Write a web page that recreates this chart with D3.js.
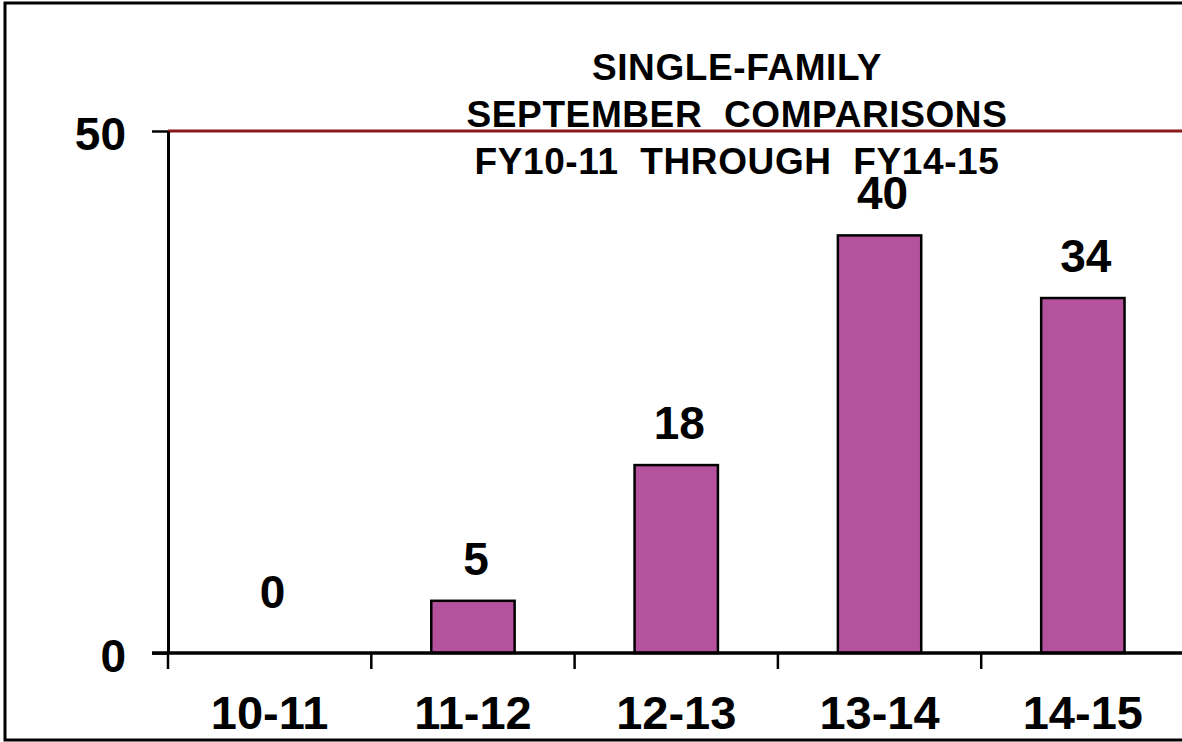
<!DOCTYPE html>
<html>
<head>
<meta charset="utf-8">
<script src="https://cdn.jsdelivr.net/npm/d3@7"></script>
<style>
  html, body { margin: 0; padding: 0; background: #fff; }
  text { font-family: Arial, "Liberation Sans", sans-serif; font-weight: bold; fill: #000; }
</style>
</head>
<body>
<div id="chart"></div>
<script>
// fiscal years and single-family counts for September
const categories = ["10-11", "11-12", "12-13", "13-14", "14-15"];
const values = [0, 5, 18, 40, 34];
const yTicks = [0, 50];
const titleLines = ["SINGLE-FAMILY", "SEPTEMBER  COMPARISONS", "FY10-11  THROUGH  FY14-15"];

const width = 1182, height = 742;
const plot = {left: 168, right: 1184.5, top: 131, bottom: 653};

const svg = d3.select("#chart")
  .append("svg")
    .attr("width", width)
    .attr("height", height);

// frame round the picture (right side runs off the edge)
svg.append("rect")
  .attr("x", 5).attr("y", 3)
  .attr("width", width + 10).attr("height", 737)
  .attr("fill", "none")
  .attr("stroke", "#000")
  .attr("stroke-width", 3);

const x = d3.scaleBand()
  .domain(categories)
  .range([plot.left, plot.right])
  .paddingInner(0.59)
  .paddingOuter(0.295);

// same bands with no padding, used for the tick marks between categories
const xEdges = d3.scaleBand()
  .domain(categories)
  .range([plot.left, plot.right]);

const y = d3.scaleLinear()
  .domain([0, 50])
  .range([plot.bottom, plot.top]);

// dark red line at the top of the scale
svg.append("line")
  .attr("x1", plot.left).attr("x2", width)
  .attr("y1", y(50)).attr("y2", y(50))
  .attr("stroke", "#8B1A1A")
  .attr("stroke-width", 3);

// bars
svg.selectAll("rect.bar")
  .data(values)
  .join("rect")
    .attr("class", "bar")
    .attr("x", (d, i) => x(categories[i]))
    .attr("y", d => y(d))
    .attr("width", x.bandwidth())
    .attr("height", d => y(0) - y(d))
    .attr("fill", "#B5529E")
    .attr("stroke", "#000")
    .attr("stroke-width", 2.5)
    .style("display", d => d > 0 ? null : "none");

// y axis
const yAxis = svg.append("g")
  .attr("transform", `translate(${plot.left},0)`)
  .call(d3.axisLeft(y).tickValues(yTicks).tickSize(16).tickSizeOuter(0).tickPadding(26));
yAxis.select(".domain").attr("stroke", "#000").attr("stroke-width", 3);
yAxis.selectAll(".tick line").attr("stroke", "#000").attr("stroke-width", 2.5);
yAxis.selectAll(".tick text")
  .attr("dy", "0.4em")
  .style("font-size", "46px")
  .style("font-family", "Arial, 'Liberation Sans', sans-serif")
  .style("font-weight", "bold");

// x axis line
svg.append("line")
  .attr("x1", plot.left - 16).attr("x2", width)
  .attr("y1", y(0)).attr("y2", y(0))
  .attr("stroke", "#000")
  .attr("stroke-width", 3.5);

// tick marks between categories
svg.selectAll("line.xtick")
  .data(categories)
  .join("line")
    .attr("class", "xtick")
    .attr("x1", d => xEdges(d)).attr("x2", d => xEdges(d))
    .attr("y1", y(0)).attr("y2", y(0) + 16)
    .attr("stroke", "#000")
    .attr("stroke-width", 2.5);

// category labels
svg.selectAll("text.xlabel")
  .data(categories)
  .join("text")
    .attr("class", "xlabel")
    .attr("x", d => x(d) + x.bandwidth() / 2)
    .attr("y", 729)
    .attr("text-anchor", "middle")
    .style("font-size", "47px")
    .text(d => d);

// value labels above bars (Excel lifts the zero label a bit higher)
svg.selectAll("text.value")
  .data(values)
  .join("text")
    .attr("class", "value")
    .attr("x", (d, i) => x(categories[i]) + x.bandwidth() / 2 + 3)
    .attr("y", d => Math.min(y(d) - 26, y(0) - 45))
    .attr("text-anchor", "middle")
    .style("font-size", "46px")
    .text(d => d);

// title
svg.selectAll("text.title")
  .data(titleLines)
  .join("text")
    .attr("class", "title")
    .attr("x", 737)
    .attr("y", (d, i) => 80 + i * 47)
    .attr("text-anchor", "middle")
    .style("font-size", "37px")
    .style("letter-spacing", "0.6px")
    .style("white-space", "pre")
    .text(d => d);
</script>
</body>
</html>
